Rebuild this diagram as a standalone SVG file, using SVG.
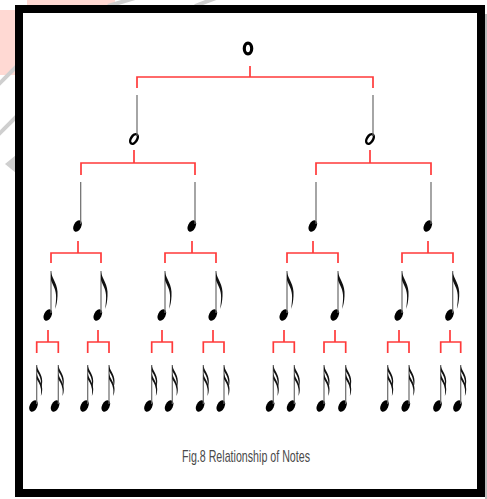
<svg xmlns="http://www.w3.org/2000/svg" width="487" height="499" viewBox="0 0 487 499">
<style>
.link{fill:none;stroke:#ff3a3a;stroke-width:1.7}
.stem{stroke:#6a6a6a;stroke-width:1.2}
.head{fill:#000}
.wm{stroke:#cfcfcf;stroke-width:4}
.cap{font-family:"Liberation Sans",Arial,sans-serif;font-size:17px;fill:#4a4a4a}
</style>
<defs>
<path id="flag8" d="M0,0 C1,7 7.5,12 6.5,24 C6.3,29 5.5,33 4.2,37 C4.8,31 5.3,27 5,23 C4.6,16 1,12 0,8 Z" fill="#111"/>
<path id="flag16" d="M0,0 C0.5,5 5.5,9 5.5,16 C5.5,19 5,21 4.2,23 C4.5,19 4.5,17 4,15 C3.5,11 1,8 0,6 Z" fill="#111"/>
<g id="whole"><ellipse cx="0" cy="0" rx="3.7" ry="5.4" fill="none" stroke="#000" stroke-width="3.2"/></g>
<g id="half"><ellipse cx="0" cy="0" rx="3" ry="5.3" transform="rotate(32)" fill="none" stroke="#000" stroke-width="2.5"/><line class="stem" x1="3" y1="-44" x2="3" y2="-3"/></g>
<g id="quarter"><ellipse class="head" cx="0" cy="0" rx="3.8" ry="6.2" transform="rotate(25)"/><line class="stem" x1="3.2" y1="-44" x2="3.2" y2="-2"/></g>
<g id="eighth"><use href="#quarter"/><use href="#flag8" x="3.2" y="-43"/></g>
<g id="sixteenth"><ellipse class="head" cx="0" cy="0" rx="3.8" ry="6.2" transform="rotate(25)"/><line class="stem" x1="3.2" y1="-41" x2="3.2" y2="-2"/><use href="#flag16" x="3.2" y="-41"/><use href="#flag16" x="3.2" y="-33"/></g>
</defs>

<rect width="487" height="499" fill="#fff"/>
<g id="watermark">
<rect x="0" y="0" width="115" height="75" fill="#ffd9d3"/>
<rect x="0" y="0" width="27" height="10" fill="#fff"/>
<line class="wm" x1="108" y1="6" x2="135" y2="-2"/>
<line class="wm" x1="195" y1="6" x2="216" y2="-2"/>
<line class="wm" x1="-2" y1="85" x2="17" y2="66"/>
<line class="wm" x1="-2" y1="135" x2="17" y2="116"/>
<polygon points="5,164 16,155 16,173" fill="#cfcfcf"/>
</g>

<line x1="486" y1="14" x2="486" y2="499" stroke="#bbb" stroke-width="2"/>
<rect id="frame" x="19" y="9" width="462" height="484" fill="#fff" stroke="#000" stroke-width="8"/>

<g id="connectors">
<path class="link" d="M250,66 V77 M137,88 V77 H373 V88"/>
<path class="link" d="M134,150 V163 M81,175 V163 H195 V175"/>
<path class="link" d="M370,150 V163 M316,175 V163 H431 V175"/>
<path class="link" d="M78,241 V253 M51,263 V253 H101 V263"/>
<path class="link" d="M192,241 V253 M165,263 V253 H216 V263"/>
<path class="link" d="M313,241 V253 M287,263 V253 H338 V263"/>
<path class="link" d="M428,241 V253 M402,263 V253 H453 V263"/>
<path class="link" d="M48,330 V342 M36.7,353 V342 H58.3 V353"/>
<path class="link" d="M98,330 V342 M87.7,353 V342 H109 V353"/>
<path class="link" d="M162,330 V342 M151.7,353 V342 H172.3 V353"/>
<path class="link" d="M213,330 V342 M203.3,353 V342 H224 V353"/>
<path class="link" d="M284,330 V342 M273.3,353 V342 H294.3 V353"/>
<path class="link" d="M335,330 V342 M324,353 V342 H345.7 V353"/>
<path class="link" d="M399,330 V342 M387.7,353 V342 H409 V353"/>
<path class="link" d="M450,330 V342 M440.7,353 V342 H460.7 V353"/>
</g>

<g id="n-whole"><use href="#whole" x="248" y="48.5"/></g>

<g id="n-half-1"><use href="#half" x="134" y="139"/></g>
<g id="n-half-2"><use href="#half" x="370" y="139"/></g>

<g id="n-quarter-1"><use href="#quarter" x="77.5" y="226"/></g>
<g id="n-quarter-2"><use href="#quarter" x="191.8" y="226"/></g>
<g id="n-quarter-3"><use href="#quarter" x="312.8" y="226"/></g>
<g id="n-quarter-4"><use href="#quarter" x="427.8" y="226"/></g>

<g id="n-eighth-1"><use href="#eighth" x="47.8" y="315"/></g>
<g id="n-eighth-2"><use href="#eighth" x="97.8" y="315"/></g>
<g id="n-eighth-3"><use href="#eighth" x="161.8" y="315"/></g>
<g id="n-eighth-4"><use href="#eighth" x="212.8" y="315"/></g>
<g id="n-eighth-5"><use href="#eighth" x="283.8" y="315"/></g>
<g id="n-eighth-6"><use href="#eighth" x="334.8" y="315"/></g>
<g id="n-eighth-7"><use href="#eighth" x="398.8" y="315"/></g>
<g id="n-eighth-8"><use href="#eighth" x="449.5" y="315"/></g>

<g id="n-sixteenth-1"><use href="#sixteenth" x="33.5" y="406"/></g>
<g id="n-sixteenth-2"><use href="#sixteenth" x="55.1" y="406"/></g>
<g id="n-sixteenth-3"><use href="#sixteenth" x="84.5" y="406"/></g>
<g id="n-sixteenth-4"><use href="#sixteenth" x="105.8" y="406"/></g>
<g id="n-sixteenth-5"><use href="#sixteenth" x="148.5" y="406"/></g>
<g id="n-sixteenth-6"><use href="#sixteenth" x="169.1" y="406"/></g>
<g id="n-sixteenth-7"><use href="#sixteenth" x="200.1" y="406"/></g>
<g id="n-sixteenth-8"><use href="#sixteenth" x="220.8" y="406"/></g>
<g id="n-sixteenth-9"><use href="#sixteenth" x="270.1" y="406"/></g>
<g id="n-sixteenth-10"><use href="#sixteenth" x="291.1" y="406"/></g>
<g id="n-sixteenth-11"><use href="#sixteenth" x="320.8" y="406"/></g>
<g id="n-sixteenth-12"><use href="#sixteenth" x="342.5" y="406"/></g>
<g id="n-sixteenth-13"><use href="#sixteenth" x="384.5" y="406"/></g>
<g id="n-sixteenth-14"><use href="#sixteenth" x="405.8" y="406"/></g>
<g id="n-sixteenth-15"><use href="#sixteenth" x="437.5" y="406"/></g>
<g id="n-sixteenth-16"><use href="#sixteenth" x="457.5" y="406"/></g>

<text class="cap" x="182" y="461.5" textLength="128" lengthAdjust="spacingAndGlyphs">Fig.8 Relationship of Notes</text>
</svg>
